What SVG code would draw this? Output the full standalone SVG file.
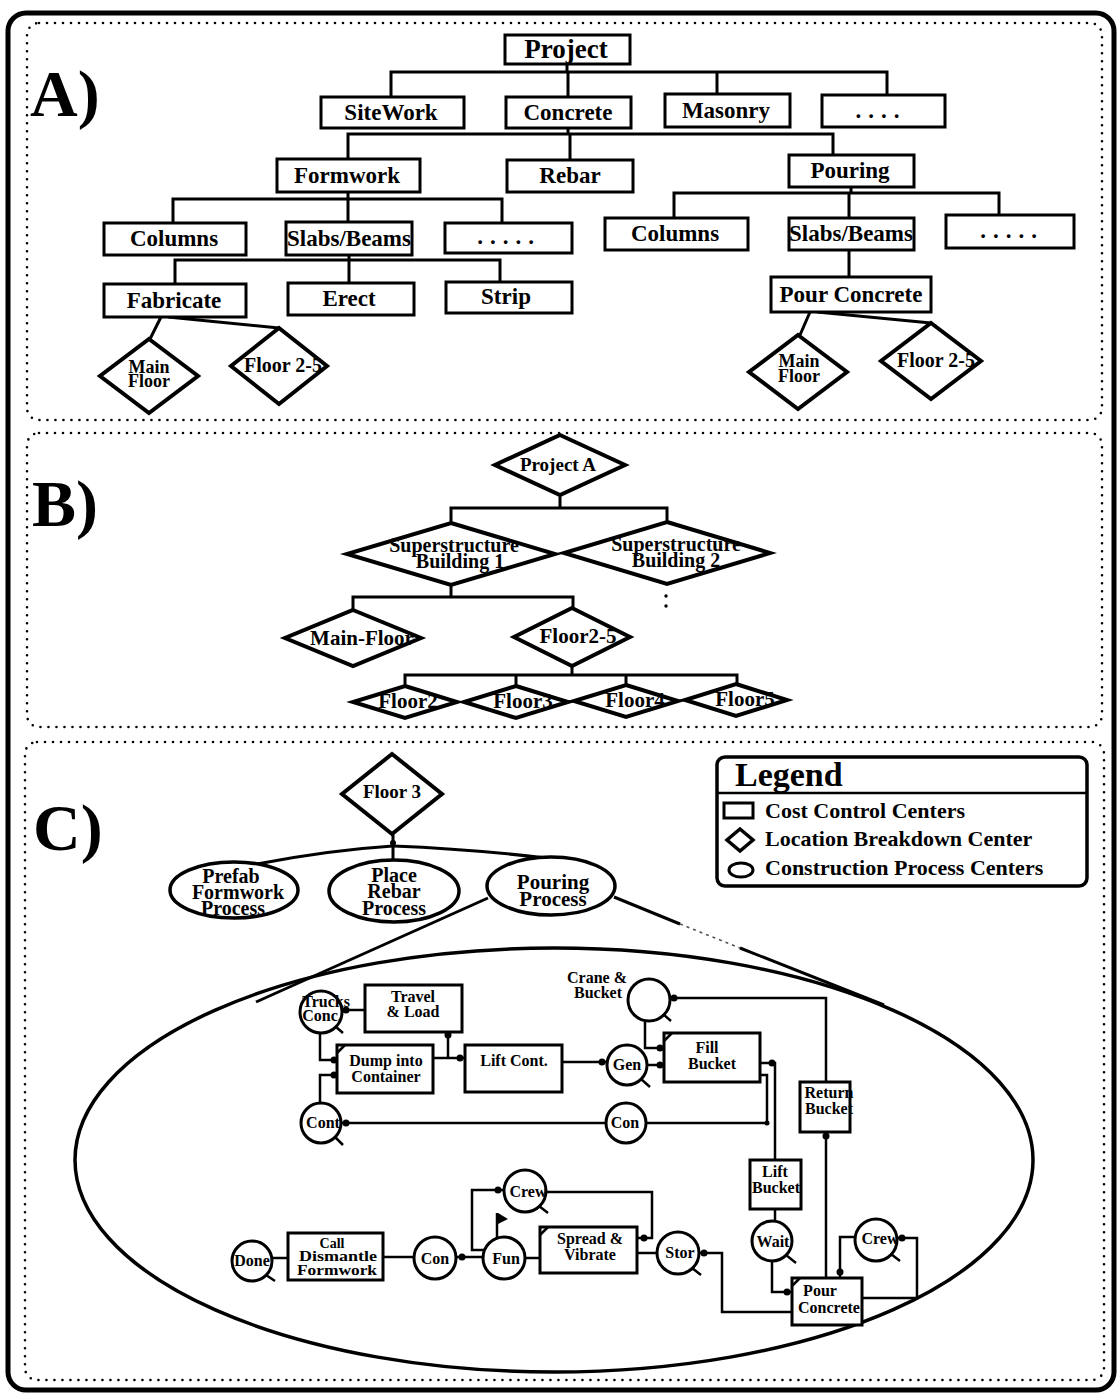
<svg xmlns="http://www.w3.org/2000/svg" width="1119" height="1399" viewBox="0 0 1119 1399">
<style>
.frame{fill:none;stroke:#000;stroke-width:5}
.dots{fill:none;stroke:#000;stroke-width:2.6;stroke-dasharray:0 8;stroke-linecap:round}
.box{fill:#fff;stroke:#000;stroke-width:3}
.dia{fill:#fff;stroke:#000;stroke-width:4;stroke-linejoin:miter}
.ell{fill:#fff;stroke:#000;stroke-width:3.5}
.ln{fill:none;stroke:#000;stroke-width:3}
.pl{fill:none;stroke:#000;stroke-width:2.5}
.q{fill:#fff;stroke:#000;stroke-width:3}
.blob{fill:#000}
.t{font-family:"Liberation Serif","Times New Roman",serif;font-weight:bold;text-anchor:middle;fill:#000}
.s27{font-size:27px}.s23{font-size:23px}.s21{font-size:21px}.s20{font-size:20px}.s19{font-size:19px}.s18{font-size:18px}.s16{font-size:16px}.s14{font-size:14px}
.big{font-family:"Liberation Serif","Times New Roman",serif;font-weight:bold;font-size:66px;fill:#000}
.lg{font-family:"Liberation Serif","Times New Roman",serif;font-weight:bold;fill:#000}
</style>

<!-- outer frame and the three dotted panels -->
<rect class="frame" x="8" y="13" width="1106" height="1377" rx="18"/>
<rect class="dots" x="27" y="23" width="1075" height="397" rx="12"/>
<rect class="dots" x="27" y="433" width="1075" height="294" rx="12"/>
<rect class="dots" x="25" y="742" width="1079" height="638" rx="12"/>

<text class="big" x="30" y="116">A)</text>
<text class="big" x="32" y="526">B)</text>
<text class="big" x="33" y="850">C)</text>

<!-- ===== connectors ===== -->
<g id="connectors">
  <!-- panel A: cost breakdown tree -->
  <path class="ln" d="M567,64 V72 M391,97 V72 H887 V95 M568,72 V97 M717,72 V94"/>
  <path class="ln" d="M568,128 V134 M348,159 V134 H833 V155 M570,134 V160"/>
  <path class="ln" d="M348,192 V199 M173,223 V199 H502 V223 M348,199 V222"/>
  <path class="ln" d="M851,187 V193 M674,218 V193 H999 V215 M849,193 V218"/>
  <path class="ln" d="M349,255 V260 M175,284 V260 H500 V282 M349,260 V283"/>
  <path class="ln" d="M849,250 V277"/>
  <path class="ln" d="M161,317 L150,339 M168,317 L279,328"/>
  <path class="ln" d="M810,312 L800,335 M817,312 L931,323"/>

  <!-- panel B: location tree -->
  <path class="ln" d="M560,495 V508 M451,523 V508 H667 V522"/>
  <path class="ln" d="M451,585 V597 M353,610 V597 H573 V608"/>
  <path class="ln" d="M572,666 V675 M405,686 V675 H737 V685 M516,675 V686 M626,675 V685"/>
  <circle class="blob" cx="666" cy="596" r="1.7"/>
  <circle class="blob" cx="666" cy="606" r="1.7"/>

  <!-- panel C: floor to processes -->
  <path class="ln" d="M393,834 V846"/>
  <circle class="blob" cx="393" cy="843" r="3"/>
  <path class="ln" d="M393,846 Q330,850 257,864"/>
  <path class="ln" d="M393,846 V860"/>
  <path class="ln" d="M393,846 Q470,849 546,858"/>

  <!-- zoom-out lines from Pouring Process to the detail ellipse -->
  <path class="ln" d="M488,898 L256,1002"/>
  <path class="ln" d="M614,897 L680,924"/>
  <path fill="none" stroke="#555" stroke-width="1.6" stroke-dasharray="3 4" d="M680,924 L740,948"/>
  <path class="ln" d="M740,948 L884,1005"/>

  <!-- process network links -->
  <path class="pl" d="M365,1010 H343"/>
  <path class="pl" d="M320,1033 V1060 H337"/>
  <path class="pl" d="M320,1102 V1075 H337"/>
  <path class="pl" d="M433,1058 H465"/>
  <path class="pl" d="M448,1058 V1032"/>
  <path class="pl" d="M562,1062 H607"/>
  <path class="pl" d="M647,1065 H664"/>
  <path class="pl" d="M645,1021 V1048 H664"/>
  <path class="pl" d="M826,1082 V998 H670"/>
  <path class="pl" d="M760,1063 H775 V1160"/>
  <path class="pl" d="M760,1075 H767 V1123 H647"/>
  <path class="pl" d="M605,1123 H342"/>
  <path class="pl" d="M826,1278 V1132"/>
  <path class="pl" d="M775,1209 V1220"/>
  <path class="pl" d="M772,1262 V1292 H792"/>
  <path class="pl" d="M855,1237 H840 V1278"/>
  <path class="pl" d="M862,1298 H917 V1238 H897"/>
  <path class="pl" d="M699,1253 H722 V1312 H792"/>
  <path class="pl" d="M637,1253 H657"/>
  <path class="pl" d="M272,1258 H288"/>
  <path class="pl" d="M383,1257 H414"/>
  <path class="pl" d="M456,1257 H483"/>
  <path class="pl" d="M525,1258 H540"/>
  <path class="pl" d="M484,1250 H472 V1190 H504"/>
  <path class="pl" d="M546,1192 H652 V1238 H637"/>

  <!-- arrow ends -->
  <g class="blob">
    <circle cx="346" cy="1010" r="3.5"/>
    <circle cx="334" cy="1060" r="3.5"/>
    <circle cx="334" cy="1075" r="3.5"/>
    <circle cx="448" cy="1035" r="3.5"/>
    <circle cx="460" cy="1058" r="3.5"/>
    <circle cx="602" cy="1062" r="3.5"/>
    <circle cx="660" cy="1065" r="3.5"/>
    <circle cx="660" cy="1048" r="3.5"/>
    <circle cx="674" cy="998" r="3.5"/>
    <circle cx="772" cy="1063" r="3.5"/>
    <circle cx="767" cy="1123" r="2.5"/>
    <circle cx="346" cy="1123" r="3.5"/>
    <circle cx="826" cy="1136" r="3.5"/>
    <circle cx="787" cy="1292" r="3.5"/>
    <circle cx="840" cy="1272" r="3.5"/>
    <circle cx="902" cy="1238" r="3.5"/>
    <circle cx="704" cy="1253" r="3.5"/>
    <circle cx="462" cy="1257" r="3.5"/>
    <circle cx="498" cy="1190" r="3.5"/>
    <circle cx="644" cy="1238" r="3.5"/>
  </g>
</g>

<!-- ===== panel A nodes ===== -->
<g id="a-project"><rect class="box" x="505" y="35" width="125" height="29"/><text class="t s27" x="566" y="58">Project</text></g>
<g id="a-sitework"><rect class="box" x="321" y="97" width="143" height="31"/><text class="t s23" x="391" y="120">SiteWork</text></g>
<g id="a-concrete"><rect class="box" x="506" y="97" width="125" height="31"/><text class="t s23" x="568" y="120">Concrete</text></g>
<g id="a-masonry"><rect class="box" x="665" y="94" width="125" height="33"/><text class="t s23" x="726" y="118">Masonry</text></g>
<g id="a-more1"><rect class="box" x="822" y="95" width="123" height="32"/><text class="t s23" x="881" y="118" letter-spacing="7">....</text></g>
<g id="a-formwork"><rect class="box" x="277" y="159" width="143" height="33"/><text class="t s23" x="347" y="183">Formwork</text></g>
<g id="a-rebar"><rect class="box" x="507" y="160" width="126" height="32"/><text class="t s23" x="570" y="183">Rebar</text></g>
<g id="a-pouring"><rect class="box" x="789" y="155" width="125" height="32"/><text class="t s23" x="850" y="178">Pouring</text></g>
<g id="a-columns1"><rect class="box" x="104" y="223" width="142" height="32"/><text class="t s23" x="174" y="246">Columns</text></g>
<g id="a-slabs1"><rect class="box" x="286" y="222" width="126" height="33"/><text class="t s23" x="349" y="246">Slabs/Beams</text></g>
<g id="a-more2"><rect class="box" x="445" y="223" width="127" height="30"/><text class="t s23" x="509" y="244" letter-spacing="7">.....</text></g>
<g id="a-columns2"><rect class="box" x="605" y="218" width="143" height="32"/><text class="t s23" x="675" y="241">Columns</text></g>
<g id="a-slabs2"><rect class="box" x="789" y="218" width="125" height="32"/><text class="t s23" x="851" y="241">Slabs/Beams</text></g>
<g id="a-more3"><rect class="box" x="946" y="215" width="128" height="33"/><text class="t s23" x="1012" y="238" letter-spacing="7">.....</text></g>
<g id="a-fabricate"><rect class="box" x="104" y="284" width="142" height="33"/><text class="t s23" x="174" y="308">Fabricate</text></g>
<g id="a-erect"><rect class="box" x="288" y="283" width="126" height="32"/><text class="t s23" x="349" y="306">Erect</text></g>
<g id="a-strip"><rect class="box" x="446" y="282" width="126" height="31"/><text class="t s23" x="506" y="304">Strip</text></g>
<g id="a-pourconcrete"><rect class="box" x="771" y="277" width="160" height="35"/><text class="t s23" x="851" y="302">Pour Concrete</text></g>
<g id="a-mainfloor1"><polygon class="dia" points="149,339 198,376 149,413 100,376"/><text class="t s18" x="149" y="373">Main</text><text class="t s18" x="149" y="387">Floor</text></g>
<g id="a-floor25-1"><polygon class="dia" points="279,328 327,366 279,404 231,366"/><text class="t s20" x="283" y="372">Floor 2-5</text></g>
<g id="a-mainfloor2"><polygon class="dia" points="798,335 847,372 798,409 749,372"/><text class="t s18" x="799" y="367">Main</text><text class="t s18" x="799" y="382">Floor</text></g>
<g id="a-floor25-2"><polygon class="dia" points="931,323 981,361 931,399 881,361"/><text class="t s20" x="936" y="367">Floor 2-5</text></g>

<!-- ===== panel B nodes ===== -->
<g id="b-projecta"><polygon class="dia" points="560,435 625,465 560,495 495,465"/><text class="t s19" x="558" y="471">Project A</text></g>
<g id="b-building1"><polygon class="dia" points="451,523 555,554 451,585 347,554"/><text class="t s20" x="454" y="552">Superstructure</text><text class="t s20" x="460" y="568">Building 1</text></g>
<g id="b-building2"><polygon class="dia" points="667,522 770,553 667,584 564,553"/><text class="t s20" x="676" y="551">Superstructure</text><text class="t s20" x="676" y="567">Building 2</text></g>
<g id="b-mainfloor"><polygon class="dia" points="353,610 421,638 353,666 285,638"/><text class="t s21" x="362" y="645">Main-Floor</text></g>
<g id="b-floor25"><polygon class="dia" points="572,608 630,637 572,666 514,637"/><text class="t s21" x="578" y="643">Floor2-5</text></g>
<g id="b-floor2"><polygon class="dia" points="405,686 457,702 405,718 353,702"/><text class="t s21" x="408" y="708">Floor2</text></g>
<g id="b-floor3"><polygon class="dia" points="516,686 568,702 516,718 464,702"/><text class="t s21" x="523" y="708">Floor3</text></g>
<g id="b-floor4"><polygon class="dia" points="626,685 678,701 626,717 574,701"/><text class="t s21" x="635" y="707">Floor4</text></g>
<g id="b-floor5"><polygon class="dia" points="736,684 787,700 736,716 685,700"/><text class="t s21" x="745" y="706">Floor5</text></g>

<!-- ===== panel C nodes ===== -->
<g id="c-floor3"><polygon class="dia" points="392,754 442,794 392,834 342,794"/><text class="t s19" x="392" y="798">Floor 3</text></g>
<g id="c-prefab"><ellipse class="ell" cx="234" cy="890" rx="64" ry="28"/><text class="t s20" x="231" y="883">Prefab</text><text class="t s20" x="238" y="899">Formwork</text><text class="t s20" x="233" y="915">Process</text></g>
<g id="c-rebar"><ellipse class="ell" cx="394" cy="891" rx="65" ry="31"/><text class="t s20" x="394" y="882">Place</text><text class="t s20" x="394" y="898">Rebar</text><text class="t s20" x="394" y="915">Process</text></g>
<g id="c-pouring"><ellipse class="ell" cx="551" cy="886" rx="64" ry="29"/><text class="t s21" x="553" y="889">Pouring</text><text class="t s21" x="553" y="906">Process</text></g>

<!-- legend -->
<g id="legend">
  <rect fill="#fff" stroke="#000" stroke-width="3.5" x="717" y="757" width="370" height="129" rx="8"/>
  <line stroke="#000" stroke-width="2.5" x1="717" y1="793" x2="1087" y2="793"/>
  <text class="lg" x="735" y="786" font-size="34">Legend</text>
  <rect fill="none" stroke="#000" stroke-width="3" x="724" y="803" width="29" height="15"/>
  <text class="lg" x="765" y="818" font-size="22">Cost Control Centers</text>
  <polygon fill="none" stroke="#000" stroke-width="3.5" points="740,829 753,840 740,851 727,840"/>
  <text class="lg" x="765" y="846" font-size="22">Location Breakdown Center</text>
  <ellipse fill="none" stroke="#000" stroke-width="3" cx="741" cy="870" rx="12" ry="7"/>
  <text class="lg" x="765" y="875" font-size="22">Construction Process Centers</text>
</g>

<!-- detail of the pouring process -->
<ellipse id="pouring-detail" fill="none" stroke="#000" stroke-width="3.5" cx="554" cy="1160" rx="479" ry="212"/>

<g id="p-trucks">
  <circle class="q" cx="321" cy="1012" r="21"/><line class="pl" x1="336" y1="1027" x2="343" y2="1033"/>
  <text class="t s16" x="326" y="1007">Trucks</text><text class="t s16" x="322" y="1021">Conc.</text>
</g>
<g id="p-travel"><rect class="box" x="365" y="985" width="97" height="47"/><text class="t s16" x="413" y="1002">Travel</text><text class="t s16" x="413" y="1017">&amp; Load</text></g>
<g id="p-dump"><rect class="box" x="337" y="1045" width="96" height="48"/><path class="pl" d="M337,1053 L345,1045"/><text class="t s16" x="386" y="1066">Dump into</text><text class="t s16" x="386" y="1082">Container</text></g>
<g id="p-liftcont"><rect class="box" x="465" y="1045" width="97" height="47"/><text class="t s16" x="514" y="1066">Lift Cont.</text></g>
<g id="p-crane">
  <circle class="q" cx="649" cy="1000" r="21"/><line class="pl" x1="663" y1="1014" x2="671" y2="1021"/>
  <text class="t s16" x="597" y="983">Crane &amp;</text><text class="t s16" x="598" y="998">Bucket</text>
</g>
<g id="p-gen"><circle class="q" cx="627" cy="1065" r="20"/><line class="pl" x1="641" y1="1079" x2="650" y2="1087"/><text class="t s16" x="627" y="1070">Gen</text></g>
<g id="p-fill"><rect class="box" x="664" y="1033" width="96" height="49"/><path class="pl" d="M664,1041 L672,1033"/><text class="t s16" x="707" y="1053">Fill</text><text class="t s16" x="712" y="1069">Bucket</text></g>
<g id="p-cont"><circle class="q" cx="321" cy="1123" r="20"/><line class="pl" x1="335" y1="1137" x2="343" y2="1145"/><text class="t s16" x="323" y="1128">Cont</text></g>
<g id="p-con1"><circle class="q" cx="626" cy="1123" r="20"/><text class="t s16" x="625" y="1128">Con</text></g>
<g id="p-return"><rect class="box" x="800" y="1082" width="50" height="50"/><text class="t s16" x="829" y="1098">Return</text><text class="t s16" x="829" y="1114">Bucket</text></g>
<g id="p-liftbucket"><rect class="box" x="750" y="1160" width="51" height="49"/><text class="t s16" x="775" y="1177">Lift</text><text class="t s16" x="776" y="1193">Bucket</text></g>
<g id="p-wait"><circle class="q" cx="772" cy="1241" r="20"/><line class="pl" x1="786" y1="1255" x2="796" y2="1263"/><text class="t s16" x="773" y="1247">Wait</text></g>
<g id="p-crew2"><circle class="q" cx="876" cy="1240" r="21"/><line class="pl" x1="891" y1="1254" x2="900" y2="1261"/><text class="t s16" x="880" y="1244">Crew</text></g>
<g id="p-pour"><rect class="box" x="792" y="1278" width="70" height="47"/><path class="pl" d="M792,1286 L800,1278"/><text class="t s16" x="820" y="1296">Pour</text><text class="t s16" x="829" y="1313">Concrete</text></g>
<g id="p-stor"><circle class="q" cx="678" cy="1253" r="21"/><line class="pl" x1="692" y1="1268" x2="701" y2="1275"/><text class="t s16" x="680" y="1258">Stor</text></g>
<g id="p-spread"><rect class="box" x="540" y="1227" width="97" height="46"/><path class="pl" d="M540,1235 L548,1227"/><text class="t s16" x="590" y="1244">Spread &amp;</text><text class="t s16" x="590" y="1260">Vibrate</text></g>
<g id="p-crew1"><circle class="q" cx="525" cy="1191" r="21"/><line class="pl" x1="539" y1="1206" x2="548" y2="1213"/><text class="t s16" x="528" y="1197">Crew</text></g>
<g id="p-fun">
  <circle class="q" cx="504" cy="1258" r="21"/>
  <line class="pl" x1="497" y1="1238" x2="497" y2="1213"/><polygon fill="#000" points="498,1213 508,1219 498,1224"/>
  <text class="t s16" x="506" y="1264">Fun</text>
</g>
<g id="p-con2"><circle class="q" cx="435" cy="1258" r="21"/><text class="t s16" x="435" y="1264">Con</text></g>
<g id="p-call"><rect class="box" x="288" y="1233" width="95" height="47"/><text class="t s14" x="332" y="1248">Call</text><text class="t s14" x="338" y="1261" textLength="78" lengthAdjust="spacingAndGlyphs">Dismantle</text><text class="t s14" x="337" y="1275" textLength="80" lengthAdjust="spacingAndGlyphs">Formwork</text></g>
<g id="p-done"><circle class="q" cx="252" cy="1261" r="20"/><line class="pl" x1="266" y1="1275" x2="275" y2="1281"/><text class="t s16" x="252" y="1266">Done</text></g>
</svg>
